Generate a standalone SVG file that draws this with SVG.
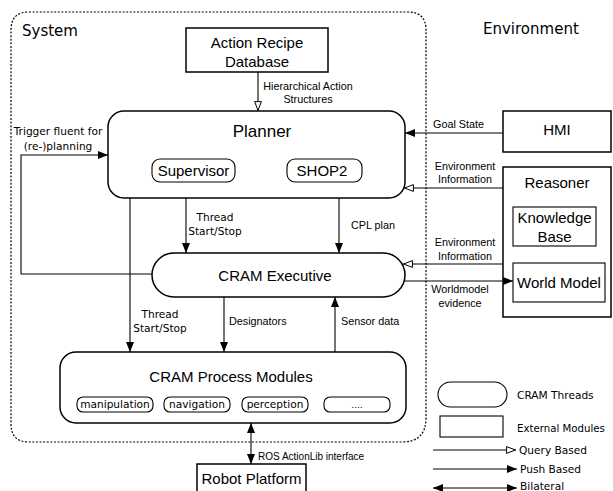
<svg xmlns="http://www.w3.org/2000/svg" width="613" height="491" viewBox="0 0 613 491">
  <defs>
    <marker id="push" viewBox="0 0 10 8" refX="10" refY="4" markerWidth="10" markerHeight="8" markerUnits="userSpaceOnUse" orient="auto-start-reverse">
      <path d="M0,0 L10,4 L0,8 Z" fill="#000"/>
    </marker>
    <marker id="query" viewBox="0 0 10 8" refX="10" refY="4" markerWidth="10" markerHeight="8" markerUnits="userSpaceOnUse" orient="auto">
      <path d="M0.6,0.6 L9.4,4 L0.6,7.4 Z" fill="#fff" stroke="#000" stroke-width="1"/>
    </marker>
  </defs>
  <style>
    .box { fill: #fff; stroke: #000; stroke-width: 1.5; }
    .sub { fill: #fff; stroke: #000; stroke-width: 1.1; }
    .edge { fill: none; stroke: #000; stroke-width: 1.1; }
    .push { marker-end: url(#push); }
    .query { marker-end: url(#query); }
    .both { marker-start: url(#push); marker-end: url(#push); }
    .big { font-family: "Liberation Sans", Arial, sans-serif; font-size: 15px; fill: #000; text-anchor: middle; }
    .lbl { font-family: "Liberation Sans", Arial, sans-serif; font-size: 10.8px; fill: #000; }
    .dv { font-family: "DejaVu Sans", Verdana, sans-serif; font-size: 10.6px; fill: #000; }
    .mid { text-anchor: middle; }
  </style>

  <rect width="613" height="491" fill="#fff"/>

  <!-- system boundary -->
  <path d="M29,12 H408 Q426,12 426,30 V418 Q426,442 402,442 H29 Q11,442 11,424 V30 Q11,12 29,12 Z"
        fill="none" stroke="#000" stroke-width="1.2" stroke-dasharray="2 1.6"/>
  <text x="22" y="36" class="dv" style="font-size:15px">System</text>
  <text x="483" y="34" class="dv" style="font-size:15px">Environment</text>

  <!-- nodes -->
  <g id="action-recipe-db">
    <rect x="186" y="28" width="142" height="44" class="box"/>
    <text x="257" y="48" class="big">Action Recipe</text>
    <text x="257" y="67" class="big">Database</text>
  </g>

  <g id="planner">
    <rect x="108" y="111" width="297" height="87" rx="16" class="box"/>
    <text x="262" y="137" class="big" style="font-size:17px">Planner</text>
    <rect x="152" y="159" width="83" height="23" rx="8" class="sub"/>
    <text x="193.5" y="176" class="big">Supervisor</text>
    <rect x="287" y="159" width="75" height="23" rx="8" class="sub"/>
    <text x="322" y="176" class="big">SHOP2</text>
  </g>

  <g id="hmi">
    <rect x="503" y="111" width="108" height="41" class="box"/>
    <text x="557" y="135" class="big">HMI</text>
  </g>

  <g id="reasoner">
    <rect x="503" y="167" width="108" height="150" class="box"/>
    <text x="557" y="188" class="big">Reasoner</text>
    <rect x="513" y="207" width="83" height="39" class="sub"/>
    <text x="554.5" y="223" class="big">Knowledge</text>
    <text x="554.5" y="242" class="big">Base</text>
    <rect x="513" y="263" width="92" height="39" class="sub"/>
    <text x="559" y="288" class="big">World Model</text>
  </g>

  <g id="cram-executive">
    <rect x="152" y="253" width="253" height="44" rx="22" class="box"/>
    <text x="275" y="281" class="big">CRAM Executive</text>
  </g>

  <g id="cram-process-modules">
    <rect x="60" y="352" width="346" height="71" rx="16" class="box"/>
    <text x="231" y="382" class="big">CRAM Process Modules</text>
    <rect x="77" y="397" width="76" height="15" rx="6" class="sub"/>
    <text x="115" y="408" class="dv mid">manipulation</text>
    <rect x="164" y="397" width="66" height="15" rx="6" class="sub"/>
    <text x="197" y="408" class="dv mid">navigation</text>
    <rect x="242" y="397" width="66" height="15" rx="6" class="sub"/>
    <text x="275" y="408" class="dv mid">perception</text>
    <rect x="324" y="397" width="66" height="15" rx="6" class="sub"/>
    <text x="357" y="408" class="dv mid" style="font-size:9px">....</text>
  </g>

  <g id="robot-platform">
    <rect x="197" y="464" width="109" height="40" class="box"/>
    <text x="251.5" y="484" class="big">Robot Platform</text>
  </g>

  <!-- connectors -->
  <g id="connectors">
    <line x1="258" y1="72" x2="258" y2="111" class="edge query"/>
    <line x1="503" y1="133" x2="405" y2="133" class="edge push"/>
    <line x1="503" y1="188" x2="404" y2="188" class="edge query"/>
    <line x1="503" y1="264" x2="403" y2="264" class="edge query"/>
    <line x1="405" y1="281" x2="513" y2="281" class="edge push"/>
    <polyline points="152,274 21,274 21,155 108,155" class="edge push"/>
    <line x1="186" y1="198" x2="186" y2="253" class="edge push"/>
    <line x1="339" y1="198" x2="339" y2="253" class="edge push"/>
    <line x1="130" y1="198" x2="130" y2="352" class="edge push"/>
    <line x1="224" y1="297" x2="224" y2="352" class="edge push"/>
    <line x1="335" y1="352" x2="335" y2="297" class="edge push"/>
    <line x1="251" y1="423" x2="251" y2="464" class="edge both"/>
  </g>

  <!-- connector labels -->
  <g id="labels">
    <text x="308" y="90" class="lbl mid">Hierarchical Action</text>
    <text x="308" y="103" class="lbl mid">Structures</text>
    <text x="433" y="128" class="lbl">Goal State</text>
    <text x="465" y="170" class="lbl mid">Environment</text>
    <text x="465" y="183" class="lbl mid">Information</text>
    <text x="465" y="246" class="lbl mid">Environment</text>
    <text x="465" y="260" class="lbl mid">Information</text>
    <text x="460" y="293" class="lbl mid">Worldmodel</text>
    <text x="460" y="307" class="lbl mid">evidence</text>
    <text x="58" y="135" class="dv mid">Trigger fluent for</text>
    <text x="58" y="150" class="dv mid">(re-)planning</text>
    <text x="215" y="221" class="dv mid">Thread</text>
    <text x="215" y="235" class="dv mid">Start/Stop</text>
    <text x="351" y="229" class="lbl">CPL plan</text>
    <text x="160" y="318" class="dv mid">Thread</text>
    <text x="160" y="332" class="dv mid">Start/Stop</text>
    <text x="229" y="325" class="lbl">Designators</text>
    <text x="341" y="325" class="lbl">Sensor data</text>
    <text x="258" y="460" class="lbl" style="font-size:10px">ROS ActionLib interface</text>
  </g>

  <!-- legend -->
  <g id="legend">
    <rect x="438" y="382" width="69" height="25" rx="12.5" class="sub"/>
    <text x="517" y="399" class="dv">CRAM Threads</text>
    <rect x="440" y="416" width="63" height="21" class="sub"/>
    <text x="517" y="432" class="dv" style="font-size:10.2px">External Modules</text>
    <line x1="433" y1="450" x2="516" y2="450" class="edge query"/>
    <text x="519" y="454" class="dv">Query Based</text>
    <line x1="433" y1="469" x2="517" y2="469" class="edge push"/>
    <text x="520" y="473" class="dv">Push Based</text>
    <line x1="433" y1="488" x2="517" y2="488" class="edge both"/>
    <text x="520" y="490" class="dv">Bilateral</text>
  </g>
</svg>
